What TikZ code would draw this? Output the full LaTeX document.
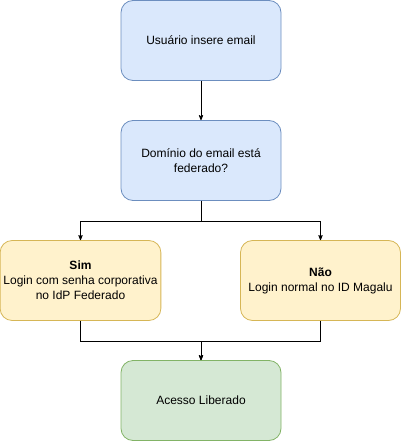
\documentclass[tikz,border=0pt]{standalone}
\usepackage{fontspec}
\setmainfont{Liberation Sans}
\usetikzlibrary{arrows}

\definecolor{bluefill}{HTML}{DAE8FC}
\definecolor{bluedraw}{HTML}{6C8EBF}
\definecolor{yellowfill}{HTML}{FFF2CC}
\definecolor{yellowdraw}{HTML}{D6B656}
\definecolor{greenfill}{HTML}{D5E8D4}
\definecolor{greendraw}{HTML}{82B366}

\begin{document}
\begin{tikzpicture}[x=1pt,y=-1pt,->,>=stealth',line width=0.8pt,
  box/.style={rectangle,rounded corners=12pt,draw,line width=0.8pt,minimum width=160pt,
    minimum height=80pt,align=center,font=\fontsize{12}{15}\selectfont},
  step node/.style={box,fill=bluefill,draw=bluedraw},
  choice node/.style={box,fill=yellowfill,draw=yellowdraw},
  end node/.style={box,fill=greenfill,draw=greendraw}]

  \useasboundingbox (0,0) rectangle (401,441);

  \node[step node] (email) at (201,40.5) {Usuário insere email};
  \node[step node] (dominio) at (201,160.5) {Domínio do email está\\federado?};
  \node[choice node] (sim) at (80.5,280.5) {\textbf{Sim}\\Login com senha corporativa\\no IdP Federado};
  \node[choice node] (nao) at (320.5,280.5) {\textbf{Não}\\Login normal no ID Magalu};
  \node[end node] (acesso) at (201,400.5) {Acesso Liberado};

  \draw (email) -- (dominio);
  \draw (dominio.south) -- ++(0,20) -| (sim.north);
  \draw (dominio.south) -- ++(0,20) -| (nao.north);
  \draw (sim.south) -- ++(0,20) -| (acesso.north);
  \draw (nao.south) -- ++(0,20) -| (acesso.north);
\end{tikzpicture}
\end{document}
